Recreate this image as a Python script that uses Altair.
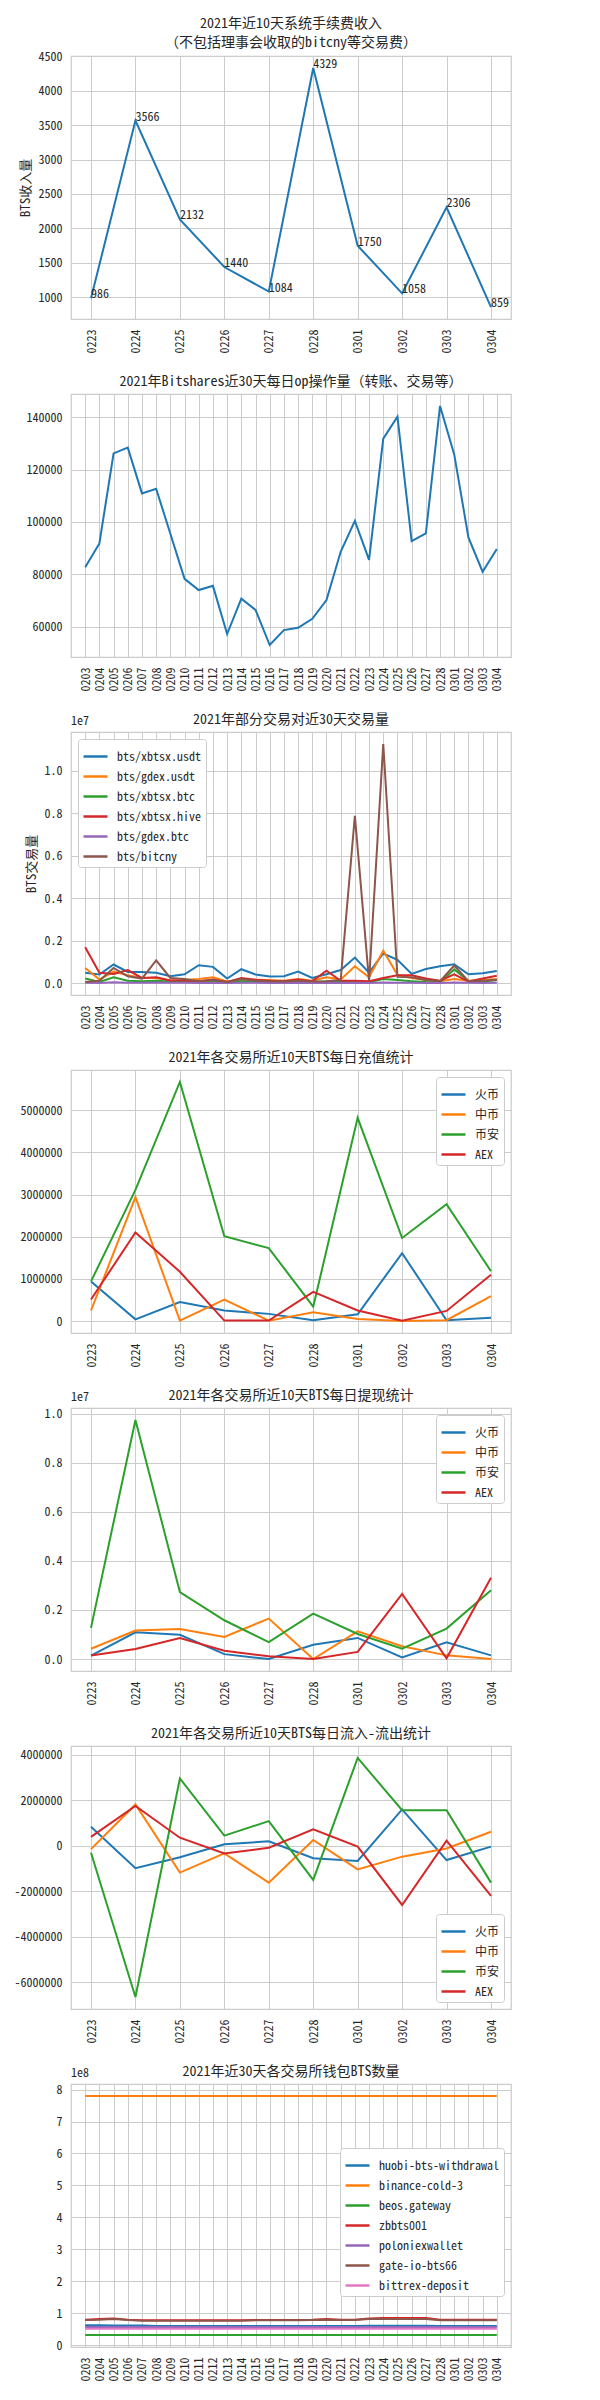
import altair as alt
import pandas as pd

FONT = "Noto Sans Mono CJK SC, Noto Sans CJK SC, sans-serif"
TXT = "#262626"
GRID = "#cccccc"
TAB = ["#1f77b4", "#ff7f0e", "#2ca02c", "#d62728", "#9467bd", "#8c564b", "#e377c2"]
W, H = 440, 263

dates10 = ["0223", "0224", "0225", "0226", "0227", "0228", "0301", "0302", "0303", "0304"]
dates30 = ["0203", "0204", "0205", "0206", "0207", "0208", "0209", "0210", "0211", "0212",
           "0213", "0214", "0215", "0216", "0217", "0218", "0219", "0220", "0221", "0222",
           "0223", "0224", "0225", "0226", "0227", "0228", "0301", "0302", "0303", "0304"]

# panel 1: fee income
fee_income = [986, 3566, 2132, 1440, 1084, 4329, 1750, 1058, 2306, 859]

# panel 2: daily op count
daily_ops = [82700, 91800, 126200, 128400, 110900, 112700, 95500, 78300, 74000, 75600,
             57200, 70700, 66400, 53000, 58700, 59600, 63000, 70200, 88600, 100400,
             85500, 131800, 140200, 92700, 95600, 144300, 125800, 94100, 81000, 89700]

# panel 3: pair volumes
pair_names = ["bts/xbtsx.usdt", "bts/gdex.usdt", "bts/xbtsx.btc", "bts/xbtsx.hive", "bts/gdex.btc", "bts/bitcny"]
vol_xbtsx_usdt = [490000, 410000, 880000, 530000, 530000, 490000, 330000, 420000, 850000, 770000,
                  220000, 660000, 410000, 320000, 330000, 550000, 250000, 420000, 620000, 1210000,
                  500000, 1400000, 1100000, 440000, 670000, 800000, 890000, 420000, 470000, 580000]
vol_gdex_usdt = [720000, 170000, 550000, 380000, 250000, 250000, 120000, 150000, 200000, 280000,
                 80000, 170000, 160000, 150000, 120000, 200000, 120000, 280000, 180000, 800000,
                 280000, 1530000, 400000, 250000, 150000, 100000, 200000, 120000, 150000, 200000]
vol_xbtsx_btc = [220000, 60000, 280000, 120000, 100000, 120000, 80000, 80000, 60000, 100000,
                 40000, 100000, 80000, 60000, 50000, 100000, 60000, 80000, 60000, 100000,
                 50000, 200000, 150000, 100000, 60000, 50000, 650000, 100000, 80000, 150000]
vol_xbtsx_hive = [1690000, 490000, 440000, 620000, 250000, 280000, 130000, 130000, 100000, 180000,
                  60000, 250000, 170000, 120000, 100000, 180000, 100000, 590000, 120000, 120000,
                  90000, 250000, 380000, 380000, 220000, 120000, 420000, 80000, 220000, 350000]
vol_gdex_btc = [20000, 10000, 50000, 20000, 20000, 30000, 20000, 20000, 10000, 20000,
                10000, 20000, 20000, 10000, 10000, 20000, 10000, 20000, 10000, 20000,
                10000, 30000, 20000, 20000, 10000, 10000, 30000, 20000, 10000, 20000]
vol_bitcny = [60000, 120000, 720000, 330000, 220000, 1080000, 250000, 200000, 100000, 150000,
              60000, 200000, 120000, 100000, 80000, 120000, 80000, 100000, 150000, 7870000,
              100000, 11250000, 300000, 280000, 150000, 100000, 830000, 100000, 120000, 150000]

# panels 4-6: exchanges
exchanges = ["火币", "中币", "币安", "AEX"]
dep_huobi = [940000, 40000, 450000, 250000, 170000, 20000, 160000, 1610000, 20000, 80000]
dep_zb = [250000, 2940000, 10000, 510000, 10000, 210000, 50000, 0, 20000, 590000]
dep_binance = [940000, 3110000, 5670000, 2010000, 1730000, 340000, 4820000, 1970000, 2770000, 1180000]
dep_aex = [510000, 2100000, 1170000, 10000, 10000, 690000, 250000, 10000, 240000, 1100000]

wd_huobi = [140000, 1090000, 990000, 200000, 0, 580000, 860000, 70000, 680000, 150000]
wd_zb = [420000, 1160000, 1220000, 900000, 1650000, 0, 1130000, 520000, 150000, 0]
wd_binance = [1270000, 9740000, 2730000, 1580000, 690000, 1850000, 1020000, 420000, 1240000, 2800000]
wd_aex = [140000, 410000, 860000, 340000, 110000, 0, 290000, 2650000, 30000, 3310000]

net_huobi = [830000, -990000, -510000, 60000, 190000, -550000, -670000, 1590000, -630000, -40000]
net_zb = [-150000, 1810000, -1180000, -340000, -1620000, 250000, -1040000, -480000, -120000, 610000]
net_binance = [-310000, -6640000, 2950000, 440000, 1080000, -1500000, 3850000, 1560000, 1560000, -1620000]
net_aex = [390000, 1740000, 350000, -340000, -90000, 720000, -40000, -2600000, 220000, -2200000]

# panel 7: wallets
wallet_names = ["huobi-bts-withdrawal", "binance-cold-3", "beos.gateway", "zbbts001",
                "poloniexwallet", "gate-io-bts66", "bittrex-deposit"]
w_huobi = [63e6, 63e6, 62e6, 62e6, 62e6, 60e6, 60e6, 60e6, 60e6, 60e6,
           60e6, 60e6, 60e6, 60e6, 60e6, 60e6, 60e6, 60e6, 60e6, 60e6,
           61e6, 61e6, 61e6, 61e6, 61e6, 60e6, 60e6, 60e6, 60e6, 60e6]
w_binance = [780e6] * 30
w_beos = [32e6] * 30
w_zb = [80e6, 82e6, 84e6, 80e6, 78e6, 78e6, 78e6, 78e6, 78e6, 78e6,
        78e6, 78e6, 79e6, 79e6, 79e6, 79e6, 80e6, 82e6, 80e6, 80e6,
        84e6, 85e6, 85e6, 85e6, 85e6, 80e6, 80e6, 80e6, 80e6, 80e6]
w_polo = [57e6] * 30
w_gate = [79e6, 80e6, 82e6, 79e6, 77e6, 77e6, 77e6, 77e6, 77e6, 77e6,
          77e6, 77e6, 78e6, 78e6, 78e6, 78e6, 79e6, 80e6, 79e6, 79e6,
          82e6, 82e6, 82e6, 82e6, 82e6, 78e6, 78e6, 78e6, 78e6, 78e6]
w_bittrex = [52e6] * 30


def long_df(dates, names, series):
    rows = []
    for name, vals in zip(names, series):
        for d, v in zip(dates, vals):
            rows.append({"date": d, "series": name, "value": v})
    return pd.DataFrame(rows)


def pad_domain(vals):
    lo, hi = min(vals), max(vals)
    r = hi - lo
    return [lo - 0.05 * r, hi + 0.05 * r]


def xenc(dates):
    return alt.X("date:N", sort=dates,
                 scale=alt.Scale(type="point", padding=0.05 * (len(dates) - 1)),
                 axis=alt.Axis(title=None, labelAngle=270, labelPadding=10, grid=True,
                               ticks=False, domain=False))


def yenc(domain, ticks, expr, title=None):
    kw = dict(values=ticks, grid=True, ticks=False, domain=False, labelPadding=9,
              labelExpr=expr, title=title)
    if title:
        kw["titlePadding"] = 5
    return alt.Y("value:Q", scale=alt.Scale(domain=domain, nice=False, zero=False),
                 axis=alt.Axis(**kw))


def title_layer(text, y):
    return alt.Chart(pd.DataFrame({"t": [text]})).mark_text(
        font=FONT, fontSize=14, color=TXT, align="center", baseline="alphabetic",
        lineBreak="\n", lineHeight=19
    ).encode(text="t:N", x=alt.value(W / 2), y=alt.value(y))


def offset_layer(text):
    return alt.Chart(pd.DataFrame({"t": [text]})).mark_text(
        font=FONT, fontSize=12, color=TXT, align="left", baseline="bottom"
    ).encode(text="t:N", x=alt.value(0), y=alt.value(-4))


def make_legend(**kw):
    return alt.Legend(title=None, symbolType="stroke", symbolSize=576, symbolStrokeWidth=2.5,
                      labelFont=FONT, labelFontSize=12, labelColor=TXT, fillColor="white",
                      strokeColor=GRID, cornerRadius=3, padding=4, labelOffset=8,
                      rowPadding=-7, offset=7, **kw)


def multi_panel(df, dates, names, colors, domain, ticks, expr, title_text, legend,
                ytitle=None, offset_text=None):
    line = alt.Chart(df).mark_line(strokeWidth=2).encode(
        x=xenc(dates), y=yenc(domain, ticks, expr, ytitle),
        color=alt.Color("series:N", sort=names,
                        scale=alt.Scale(domain=names, range=colors), legend=legend))
    layers = [line, title_layer(title_text, -8)]
    if offset_text:
        layers.append(offset_layer(offset_text))
    return alt.layer(*layers).properties(width=W, height=H)


# ---- panel 1
df1 = pd.DataFrame({"date": dates10, "value": fee_income})
dom1 = pad_domain(fee_income)
x1 = xenc(dates10)
y1 = yenc(dom1, [1000, 1500, 2000, 2500, 3000, 3500, 4000, 4500], "toString(datum.value)", "BTS收入量")
line1 = alt.Chart(df1).mark_line(strokeWidth=2, color=TAB[0]).encode(x=x1, y=y1)
lab1 = alt.Chart(df1).mark_text(font=FONT, fontSize=12, color=TXT, align="left",
                                baseline="alphabetic").encode(
    x=x1, y=y1, text=alt.Text("value:Q", format="d"))
p1 = alt.layer(line1, lab1,
               title_layer("2021年近10天系统手续费收入\n（不包括理事会收取的bitcny等交易费）", -28)
               ).properties(width=W, height=H)

# ---- panel 2
df2 = pd.DataFrame({"date": dates30, "value": daily_ops})
line2 = alt.Chart(df2).mark_line(strokeWidth=2, color=TAB[0]).encode(
    x=xenc(dates30),
    y=yenc(pad_domain(daily_ops), [60000, 80000, 100000, 120000, 140000], "toString(datum.value)"))
p2 = alt.layer(line2, title_layer("2021年Bitshares近30天每日op操作量（转账、交易等）", -8)
               ).properties(width=W, height=H)

# ---- panel 3
s3 = [vol_xbtsx_usdt, vol_gdex_usdt, vol_xbtsx_btc, vol_xbtsx_hive, vol_gdex_btc, vol_bitcny]
df3 = long_df(dates30, pair_names, s3)
p3 = multi_panel(df3, dates30, pair_names, TAB[:6], pad_domain(sum(s3, [])),
                 [0, 2e6, 4e6, 6e6, 8e6, 1e7], "format(datum.value/1e7, '.1f')",
                 "2021年部分交易对近30天交易量", make_legend(orient="top-left"),
                 ytitle="BTS交易量", offset_text="1e7")

# ---- panel 4
s4 = [dep_huobi, dep_zb, dep_binance, dep_aex]
df4 = long_df(dates10, exchanges, s4)
p4 = multi_panel(df4, dates10, exchanges, TAB[:4], pad_domain(sum(s4, [])),
                 [0, 1e6, 2e6, 3e6, 4e6, 5e6], "toString(datum.value)",
                 "2021年各交易所近10天BTS每日充值统计", make_legend(orient="top-right"))

# ---- panel 5
s5 = [wd_huobi, wd_zb, wd_binance, wd_aex]
df5 = long_df(dates10, exchanges, s5)
p5 = multi_panel(df5, dates10, exchanges, TAB[:4], pad_domain(sum(s5, [])),
                 [0, 2e6, 4e6, 6e6, 8e6, 1e7], "format(datum.value/1e7, '.1f')",
                 "2021年各交易所近10天BTS每日提现统计", make_legend(orient="top-right"),
                 offset_text="1e7")

# ---- panel 6
s6 = [net_huobi, net_zb, net_binance, net_aex]
df6 = long_df(dates10, exchanges, s6)
p6 = multi_panel(df6, dates10, exchanges, TAB[:4], pad_domain(sum(s6, [])),
                 [-6e6, -4e6, -2e6, 0, 2e6, 4e6], "toString(datum.value)",
                 "2021年各交易所近10天BTS每日流入-流出统计", make_legend(orient="bottom-right"))

# ---- panel 7
s7 = [w_huobi, w_binance, w_beos, w_zb, w_polo, w_gate, w_bittrex]
df7 = long_df(dates30, wallet_names, s7)
p7 = multi_panel(df7, dates30, wallet_names, TAB[:7], pad_domain(sum(s7, [])),
                 [0, 1e8, 2e8, 3e8, 4e8, 5e8, 6e8, 7e8, 8e8], "format(datum.value/1e8, 'd')",
                 "2021年近30天各交易所钱包BTS数量",
                 make_legend(orient="none", legendX=269, legendY=64),
                 offset_text="1e8")

chart = alt.concat(p1, p2, p3, p4, p5, p6, p7, columns=1, spacing=20, align="all").resolve_scale(
    x="independent", y="independent", color="independent"
).resolve_legend(color="independent").properties(
    padding={"left": 5, "top": 8, "right": 0, "bottom": 0}, background="white"
).configure_view(stroke=GRID, strokeWidth=1.25).configure_axis(
    labelFont=FONT, labelFontSize=12, labelColor=TXT, titleFont=FONT, titleFontSize=13,
    titleColor=TXT, titleFontWeight="normal", gridColor=GRID, gridWidth=1
)

chart.save("out.html", embed_options={"renderer": "svg", "actions": False})
